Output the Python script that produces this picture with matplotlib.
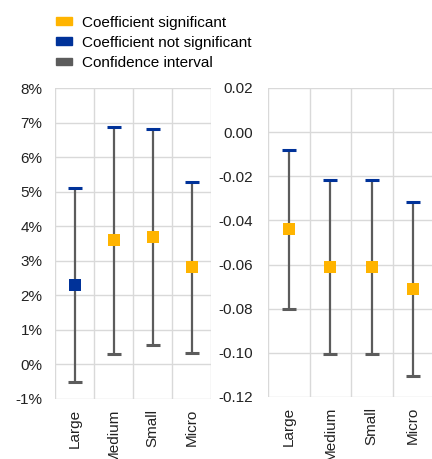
import matplotlib.pyplot as plt
from matplotlib.patches import Patch
from matplotlib.ticker import FixedLocator, PercentFormatter

plt.rcParams['font.family'] = ['Liberation Sans', 'DejaVu Sans']
plt.rcParams['axes.unicode_minus'] = False

categories = ["Large", "Medium", "Small", "Micro"]

# left panel (percent)
left_coef = [2.3, 3.6, 3.7, 2.82]
left_upper = [5.1, 6.88, 6.82, 5.27]
left_lower = [-0.5, 0.3, 0.56, 0.33]
left_signif = [False, True, True, True]

# right panel
right_coef = [-0.044, -0.061, -0.061, -0.071]
right_upper = [-0.008, -0.0217, -0.0217, -0.0316]
right_lower = [-0.080, -0.1005, -0.1005, -0.1103]
right_signif = [True, True, True, True]

YELLOW = "#FFB400"
BLUE = "#003299"
GREY = "#5C5C5C"
GRID = "#D9D9D9"


def draw_panel(ax, coef, upper, lower, signif):
    x = list(range(len(categories)))
    ax.vlines(x, lower, upper, color=GREY, linewidth=1.6, zorder=2)
    ax.plot(x, upper, linestyle='none', marker='_', markersize=9.4,
            markeredgewidth=2.2, color=BLUE, zorder=3)
    ax.plot(x, lower, linestyle='none', marker='_', markersize=9.4,
            markeredgewidth=2.2, color=GREY, zorder=3)
    for xi, c, s in zip(x, coef, signif):
        ax.plot(xi, c, linestyle='none', marker='s', markersize=8.6,
                color=YELLOW if s else BLUE, markeredgewidth=0, zorder=4)

    ax.set_xlim(-0.5, len(categories) - 0.5)
    ax.set_xticks(x)
    ax.set_xticklabels(categories, rotation=90, va='top', ha='center')
    ax.xaxis.set_minor_locator(FixedLocator([i + 0.5 for i in range(-1, len(categories))]))
    ax.grid(True, which='major', axis='y', color=GRID, linewidth=1)
    ax.grid(True, which='minor', axis='x', color=GRID, linewidth=1)
    ax.tick_params(which='both', length=0, labelsize=11, colors='#222222')
    ax.tick_params(axis='x', pad=7)
    for sp in ax.spines.values():
        sp.set_visible(False)
    ax.set_axisbelow(True)


fig = plt.figure(figsize=(4.32, 4.59), dpi=100)
W, H = 432, 459
ax1 = fig.add_axes([55 / W, 1 - 399 / H, 156 / W, 311 / H])
ax2 = fig.add_axes([268 / W, 1 - 397 / H, 166 / W, 309 / H])

draw_panel(ax1, left_coef, left_upper, left_lower, left_signif)
ax1.set_ylim(-1, 8)
ax1.set_yticks(range(-1, 9))
ax1.yaxis.set_major_formatter(PercentFormatter(decimals=0))
ax1.tick_params(axis='y', pad=9)

draw_panel(ax2, right_coef, right_upper, right_lower, right_signif)
ax2.set_ylim(-0.12, 0.02)
ax2.set_yticks([-0.12, -0.10, -0.08, -0.06, -0.04, -0.02, 0.0, 0.02])
ax2.set_yticklabels([f"{v:.2f}" for v in ax2.get_yticks()])
ax2.tick_params(axis='y', pad=11)

handles = [Patch(color=YELLOW), Patch(color=BLUE), Patch(color=GREY)]
labels = ["Coefficient significant", "Coefficient not significant", "Confidence interval"]
fig.legend(handles, labels, loc='upper left', bbox_to_anchor=(45 / W, 1 - 5 / H),
           frameon=False, fontsize=11, handlelength=1.05, handleheight=0.4,
           handletextpad=0.65, labelspacing=0.4, borderpad=0.2)

fig.savefig("out.png", dpi=100)
